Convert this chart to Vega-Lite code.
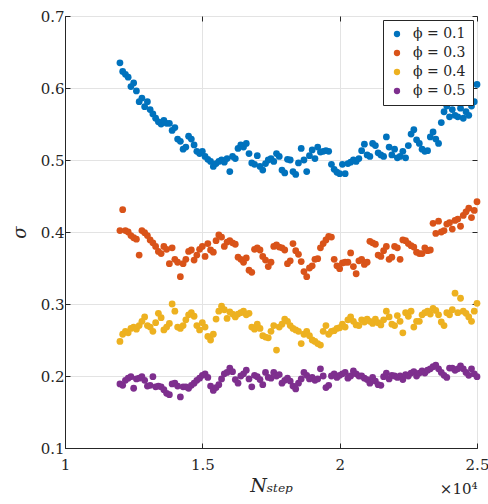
{
"$schema": "https://vega.github.io/schema/vega-lite/v6.json",
"width": 412, "height": 432,
"autosize": {"type": "none"},
"padding": {"left": 65, "top": 16, "right": 11, "bottom": 56},
"background": "white",
"config": {
 "view": {"stroke": "#262626", "strokeWidth": 1},
 "axis": {"labelFont": "DejaVu Serif", "labelFontSize": 15, "labelColor": "#262626", "titleFont": "DejaVu Serif", "titleColor": "#262626", "titleFontWeight": "normal", "domainColor": "#262626", "tickColor": "#262626", "gridColor": "#e3e3e3", "gridWidth": 1}
},
"data": {"values": [
{"n":12000,"phi":"0.1","s":0.635},{"n":12100,"phi":"0.1","s":0.623},{"n":12200,"phi":"0.1","s":0.619},{"n":12300,"phi":"0.1","s":0.615},{"n":12400,"phi":"0.1","s":0.602},{"n":12500,"phi":"0.1","s":0.607},{"n":12600,"phi":"0.1","s":0.596},{"n":12700,"phi":"0.1","s":0.581},{"n":12800,"phi":"0.1","s":0.586},{"n":12900,"phi":"0.1","s":0.574},
{"n":13000,"phi":"0.1","s":0.581},{"n":13100,"phi":"0.1","s":0.570},{"n":13200,"phi":"0.1","s":0.564},{"n":13300,"phi":"0.1","s":0.558},{"n":13400,"phi":"0.1","s":0.553},{"n":13500,"phi":"0.1","s":0.550},{"n":13600,"phi":"0.1","s":0.555},{"n":13700,"phi":"0.1","s":0.551},{"n":13800,"phi":"0.1","s":0.551},{"n":13900,"phi":"0.1","s":0.541},
{"n":14000,"phi":"0.1","s":0.545},{"n":14100,"phi":"0.1","s":0.529},{"n":14200,"phi":"0.1","s":0.526},{"n":14300,"phi":"0.1","s":0.515},{"n":14400,"phi":"0.1","s":0.518},{"n":14500,"phi":"0.1","s":0.533},{"n":14600,"phi":"0.1","s":0.529},{"n":14700,"phi":"0.1","s":0.521},{"n":14800,"phi":"0.1","s":0.512},{"n":14900,"phi":"0.1","s":0.509},
{"n":15000,"phi":"0.1","s":0.512},{"n":15100,"phi":"0.1","s":0.505},{"n":15200,"phi":"0.1","s":0.501},{"n":15300,"phi":"0.1","s":0.498},{"n":15400,"phi":"0.1","s":0.491},{"n":15500,"phi":"0.1","s":0.495},{"n":15600,"phi":"0.1","s":0.498},{"n":15700,"phi":"0.1","s":0.500},{"n":15800,"phi":"0.1","s":0.497},{"n":15900,"phi":"0.1","s":0.502},
{"n":16000,"phi":"0.1","s":0.484},{"n":16100,"phi":"0.1","s":0.505},{"n":16200,"phi":"0.1","s":0.502},{"n":16300,"phi":"0.1","s":0.516},{"n":16400,"phi":"0.1","s":0.521},{"n":16500,"phi":"0.1","s":0.518},{"n":16600,"phi":"0.1","s":0.523},{"n":16700,"phi":"0.1","s":0.509},{"n":16800,"phi":"0.1","s":0.496},{"n":16900,"phi":"0.1","s":0.494},
{"n":17000,"phi":"0.1","s":0.506},{"n":17100,"phi":"0.1","s":0.491},{"n":17200,"phi":"0.1","s":0.486},{"n":17300,"phi":"0.1","s":0.495},{"n":17400,"phi":"0.1","s":0.500},{"n":17500,"phi":"0.1","s":0.502},{"n":17600,"phi":"0.1","s":0.498},{"n":17700,"phi":"0.1","s":0.509},{"n":17800,"phi":"0.1","s":0.505},{"n":17900,"phi":"0.1","s":0.486},
{"n":18000,"phi":"0.1","s":0.482},{"n":18100,"phi":"0.1","s":0.501},{"n":18200,"phi":"0.1","s":0.500},{"n":18300,"phi":"0.1","s":0.484},{"n":18400,"phi":"0.1","s":0.480},{"n":18500,"phi":"0.1","s":0.496},{"n":18600,"phi":"0.1","s":0.516},{"n":18700,"phi":"0.1","s":0.500},{"n":18800,"phi":"0.1","s":0.484},{"n":18900,"phi":"0.1","s":0.506},
{"n":19000,"phi":"0.1","s":0.514},{"n":19100,"phi":"0.1","s":0.502},{"n":19200,"phi":"0.1","s":0.518},{"n":19300,"phi":"0.1","s":0.511},{"n":19400,"phi":"0.1","s":0.512},{"n":19500,"phi":"0.1","s":0.513},{"n":19600,"phi":"0.1","s":0.512},{"n":19700,"phi":"0.1","s":0.494},{"n":19800,"phi":"0.1","s":0.487},{"n":19900,"phi":"0.1","s":0.483},
{"n":20000,"phi":"0.1","s":0.481},{"n":20100,"phi":"0.1","s":0.494},{"n":20200,"phi":"0.1","s":0.481},{"n":20300,"phi":"0.1","s":0.495},{"n":20400,"phi":"0.1","s":0.497},{"n":20500,"phi":"0.1","s":0.500},{"n":20600,"phi":"0.1","s":0.498},{"n":20700,"phi":"0.1","s":0.502},{"n":20800,"phi":"0.1","s":0.513},{"n":20900,"phi":"0.1","s":0.522},
{"n":21000,"phi":"0.1","s":0.507},{"n":21100,"phi":"0.1","s":0.505},{"n":21200,"phi":"0.1","s":0.523},{"n":21300,"phi":"0.1","s":0.520},{"n":21400,"phi":"0.1","s":0.510},{"n":21500,"phi":"0.1","s":0.507},{"n":21600,"phi":"0.1","s":0.505},{"n":21700,"phi":"0.1","s":0.532},{"n":21800,"phi":"0.1","s":0.518},{"n":21900,"phi":"0.1","s":0.507},
{"n":22000,"phi":"0.1","s":0.515},{"n":22100,"phi":"0.1","s":0.503},{"n":22200,"phi":"0.1","s":0.505},{"n":22300,"phi":"0.1","s":0.512},{"n":22400,"phi":"0.1","s":0.503},{"n":22500,"phi":"0.1","s":0.520},{"n":22600,"phi":"0.1","s":0.536},{"n":22700,"phi":"0.1","s":0.542},{"n":22800,"phi":"0.1","s":0.528},{"n":22900,"phi":"0.1","s":0.523},
{"n":23000,"phi":"0.1","s":0.515},{"n":23100,"phi":"0.1","s":0.512},{"n":23200,"phi":"0.1","s":0.513},{"n":23300,"phi":"0.1","s":0.532},{"n":23400,"phi":"0.1","s":0.539},{"n":23500,"phi":"0.1","s":0.529},{"n":23600,"phi":"0.1","s":0.523},{"n":23700,"phi":"0.1","s":0.552},{"n":23800,"phi":"0.1","s":0.567},{"n":23900,"phi":"0.1","s":0.575},
{"n":24000,"phi":"0.1","s":0.560},{"n":24100,"phi":"0.1","s":0.570},{"n":24200,"phi":"0.1","s":0.562},{"n":24300,"phi":"0.1","s":0.560},{"n":24400,"phi":"0.1","s":0.572},{"n":24500,"phi":"0.1","s":0.558},{"n":24600,"phi":"0.1","s":0.567},{"n":24700,"phi":"0.1","s":0.562},{"n":24800,"phi":"0.1","s":0.575},{"n":24900,"phi":"0.1","s":0.581},
{"n":25000,"phi":"0.1","s":0.605},
{"n":12000,"phi":"0.3","s":0.402},{"n":12100,"phi":"0.3","s":0.431},{"n":12200,"phi":"0.3","s":0.402},{"n":12300,"phi":"0.3","s":0.400},{"n":12400,"phi":"0.3","s":0.395},{"n":12500,"phi":"0.3","s":0.392},{"n":12600,"phi":"0.3","s":0.390},{"n":12700,"phi":"0.3","s":0.368},{"n":12800,"phi":"0.3","s":0.402},{"n":12900,"phi":"0.3","s":0.399},
{"n":13000,"phi":"0.3","s":0.395},{"n":13100,"phi":"0.3","s":0.389},{"n":13200,"phi":"0.3","s":0.385},{"n":13300,"phi":"0.3","s":0.380},{"n":13400,"phi":"0.3","s":0.373},{"n":13500,"phi":"0.3","s":0.370},{"n":13600,"phi":"0.3","s":0.380},{"n":13700,"phi":"0.3","s":0.376},{"n":13800,"phi":"0.3","s":0.356},{"n":13900,"phi":"0.3","s":0.378},
{"n":14000,"phi":"0.3","s":0.362},{"n":14100,"phi":"0.3","s":0.358},{"n":14200,"phi":"0.3","s":0.338},{"n":14300,"phi":"0.3","s":0.356},{"n":14400,"phi":"0.3","s":0.362},{"n":14500,"phi":"0.3","s":0.373},{"n":14600,"phi":"0.3","s":0.375},{"n":14700,"phi":"0.3","s":0.361},{"n":14800,"phi":"0.3","s":0.368},{"n":14900,"phi":"0.3","s":0.376},
{"n":15000,"phi":"0.3","s":0.380},{"n":15100,"phi":"0.3","s":0.366},{"n":15200,"phi":"0.3","s":0.384},{"n":15300,"phi":"0.3","s":0.375},{"n":15400,"phi":"0.3","s":0.372},{"n":15500,"phi":"0.3","s":0.388},{"n":15600,"phi":"0.3","s":0.396},{"n":15700,"phi":"0.3","s":0.393},{"n":15800,"phi":"0.3","s":0.380},{"n":15900,"phi":"0.3","s":0.386},
{"n":16000,"phi":"0.3","s":0.388},{"n":16100,"phi":"0.3","s":0.385},{"n":16200,"phi":"0.3","s":0.383},{"n":16300,"phi":"0.3","s":0.365},{"n":16400,"phi":"0.3","s":0.362},{"n":16500,"phi":"0.3","s":0.358},{"n":16600,"phi":"0.3","s":0.364},{"n":16700,"phi":"0.3","s":0.347},{"n":16800,"phi":"0.3","s":0.344},{"n":16900,"phi":"0.3","s":0.376},
{"n":17000,"phi":"0.3","s":0.378},{"n":17100,"phi":"0.3","s":0.375},{"n":17200,"phi":"0.3","s":0.366},{"n":17300,"phi":"0.3","s":0.361},{"n":17400,"phi":"0.3","s":0.352},{"n":17500,"phi":"0.3","s":0.358},{"n":17600,"phi":"0.3","s":0.380},{"n":17700,"phi":"0.3","s":0.382},{"n":17800,"phi":"0.3","s":0.379},{"n":17900,"phi":"0.3","s":0.378},
{"n":18000,"phi":"0.3","s":0.375},{"n":18100,"phi":"0.3","s":0.356},{"n":18200,"phi":"0.3","s":0.360},{"n":18300,"phi":"0.3","s":0.384},{"n":18400,"phi":"0.3","s":0.374},{"n":18500,"phi":"0.3","s":0.369},{"n":18600,"phi":"0.3","s":0.359},{"n":18700,"phi":"0.3","s":0.345},{"n":18800,"phi":"0.3","s":0.338},{"n":18900,"phi":"0.3","s":0.350},
{"n":19000,"phi":"0.3","s":0.353},{"n":19100,"phi":"0.3","s":0.362},{"n":19200,"phi":"0.3","s":0.363},{"n":19300,"phi":"0.3","s":0.378},{"n":19400,"phi":"0.3","s":0.384},{"n":19500,"phi":"0.3","s":0.389},{"n":19600,"phi":"0.3","s":0.394},{"n":19700,"phi":"0.3","s":0.393},{"n":19800,"phi":"0.3","s":0.362},{"n":19900,"phi":"0.3","s":0.353},
{"n":20000,"phi":"0.3","s":0.349},{"n":20100,"phi":"0.3","s":0.357},{"n":20200,"phi":"0.3","s":0.358},{"n":20300,"phi":"0.3","s":0.358},{"n":20400,"phi":"0.3","s":0.371},{"n":20500,"phi":"0.3","s":0.352},{"n":20600,"phi":"0.3","s":0.342},{"n":20700,"phi":"0.3","s":0.360},{"n":20800,"phi":"0.3","s":0.362},{"n":20900,"phi":"0.3","s":0.355},
{"n":21000,"phi":"0.3","s":0.358},{"n":21100,"phi":"0.3","s":0.387},{"n":21200,"phi":"0.3","s":0.385},{"n":21300,"phi":"0.3","s":0.383},{"n":21400,"phi":"0.3","s":0.368},{"n":21500,"phi":"0.3","s":0.366},{"n":21600,"phi":"0.3","s":0.374},{"n":21700,"phi":"0.3","s":0.380},{"n":21800,"phi":"0.3","s":0.362},{"n":21900,"phi":"0.3","s":0.365},
{"n":22000,"phi":"0.3","s":0.380},{"n":22100,"phi":"0.3","s":0.378},{"n":22200,"phi":"0.3","s":0.362},{"n":22300,"phi":"0.3","s":0.389},{"n":22400,"phi":"0.3","s":0.388},{"n":22500,"phi":"0.3","s":0.384},{"n":22600,"phi":"0.3","s":0.381},{"n":22700,"phi":"0.3","s":0.379},{"n":22800,"phi":"0.3","s":0.372},{"n":22900,"phi":"0.3","s":0.370},
{"n":23000,"phi":"0.3","s":0.370},{"n":23100,"phi":"0.3","s":0.378},{"n":23200,"phi":"0.3","s":0.374},{"n":23300,"phi":"0.3","s":0.375},{"n":23400,"phi":"0.3","s":0.412},{"n":23500,"phi":"0.3","s":0.398},{"n":23600,"phi":"0.3","s":0.415},{"n":23700,"phi":"0.3","s":0.400},{"n":23800,"phi":"0.3","s":0.402},{"n":23900,"phi":"0.3","s":0.411},
{"n":24000,"phi":"0.3","s":0.413},{"n":24100,"phi":"0.3","s":0.404},{"n":24200,"phi":"0.3","s":0.416},{"n":24300,"phi":"0.3","s":0.418},{"n":24400,"phi":"0.3","s":0.408},{"n":24500,"phi":"0.3","s":0.423},{"n":24600,"phi":"0.3","s":0.428},{"n":24700,"phi":"0.3","s":0.433},{"n":24800,"phi":"0.3","s":0.420},{"n":24900,"phi":"0.3","s":0.430},
{"n":25000,"phi":"0.3","s":0.442},
{"n":12000,"phi":"0.4","s":0.248},{"n":12100,"phi":"0.4","s":0.258},{"n":12200,"phi":"0.4","s":0.262},{"n":12300,"phi":"0.4","s":0.260},{"n":12400,"phi":"0.4","s":0.266},{"n":12500,"phi":"0.4","s":0.268},{"n":12600,"phi":"0.4","s":0.265},{"n":12700,"phi":"0.4","s":0.270},{"n":12800,"phi":"0.4","s":0.276},{"n":12900,"phi":"0.4","s":0.282},
{"n":13000,"phi":"0.4","s":0.270},{"n":13100,"phi":"0.4","s":0.268},{"n":13200,"phi":"0.4","s":0.262},{"n":13300,"phi":"0.4","s":0.274},{"n":13400,"phi":"0.4","s":0.287},{"n":13500,"phi":"0.4","s":0.281},{"n":13600,"phi":"0.4","s":0.264},{"n":13700,"phi":"0.4","s":0.268},{"n":13800,"phi":"0.4","s":0.273},{"n":13900,"phi":"0.4","s":0.300},
{"n":14000,"phi":"0.4","s":0.290},{"n":14100,"phi":"0.4","s":0.268},{"n":14200,"phi":"0.4","s":0.266},{"n":14300,"phi":"0.4","s":0.270},{"n":14400,"phi":"0.4","s":0.278},{"n":14500,"phi":"0.4","s":0.285},{"n":14600,"phi":"0.4","s":0.288},{"n":14700,"phi":"0.4","s":0.283},{"n":14800,"phi":"0.4","s":0.270},{"n":14900,"phi":"0.4","s":0.264},
{"n":15000,"phi":"0.4","s":0.274},{"n":15100,"phi":"0.4","s":0.268},{"n":15200,"phi":"0.4","s":0.255},{"n":15300,"phi":"0.4","s":0.250},{"n":15400,"phi":"0.4","s":0.258},{"n":15500,"phi":"0.4","s":0.279},{"n":15600,"phi":"0.4","s":0.290},{"n":15700,"phi":"0.4","s":0.297},{"n":15800,"phi":"0.4","s":0.292},{"n":15900,"phi":"0.4","s":0.280},
{"n":16000,"phi":"0.4","s":0.289},{"n":16100,"phi":"0.4","s":0.286},{"n":16200,"phi":"0.4","s":0.282},{"n":16300,"phi":"0.4","s":0.286},{"n":16400,"phi":"0.4","s":0.288},{"n":16500,"phi":"0.4","s":0.290},{"n":16600,"phi":"0.4","s":0.285},{"n":16700,"phi":"0.4","s":0.287},{"n":16800,"phi":"0.4","s":0.268},{"n":16900,"phi":"0.4","s":0.265},
{"n":17000,"phi":"0.4","s":0.272},{"n":17100,"phi":"0.4","s":0.266},{"n":17200,"phi":"0.4","s":0.256},{"n":17300,"phi":"0.4","s":0.254},{"n":17400,"phi":"0.4","s":0.253},{"n":17500,"phi":"0.4","s":0.262},{"n":17600,"phi":"0.4","s":0.270},{"n":17700,"phi":"0.4","s":0.236},{"n":17800,"phi":"0.4","s":0.268},{"n":17900,"phi":"0.4","s":0.272},
{"n":18000,"phi":"0.4","s":0.279},{"n":18100,"phi":"0.4","s":0.276},{"n":18200,"phi":"0.4","s":0.270},{"n":18300,"phi":"0.4","s":0.266},{"n":18400,"phi":"0.4","s":0.264},{"n":18500,"phi":"0.4","s":0.262},{"n":18600,"phi":"0.4","s":0.245},{"n":18700,"phi":"0.4","s":0.258},{"n":18800,"phi":"0.4","s":0.262},{"n":18900,"phi":"0.4","s":0.256},
{"n":19000,"phi":"0.4","s":0.250},{"n":19100,"phi":"0.4","s":0.248},{"n":19200,"phi":"0.4","s":0.245},{"n":19300,"phi":"0.4","s":0.243},{"n":19400,"phi":"0.4","s":0.262},{"n":19500,"phi":"0.4","s":0.270},{"n":19600,"phi":"0.4","s":0.258},{"n":19700,"phi":"0.4","s":0.262},{"n":19800,"phi":"0.4","s":0.263},{"n":19900,"phi":"0.4","s":0.266},
{"n":20000,"phi":"0.4","s":0.267},{"n":20100,"phi":"0.4","s":0.272},{"n":20200,"phi":"0.4","s":0.268},{"n":20300,"phi":"0.4","s":0.278},{"n":20400,"phi":"0.4","s":0.282},{"n":20500,"phi":"0.4","s":0.276},{"n":20600,"phi":"0.4","s":0.271},{"n":20700,"phi":"0.4","s":0.270},{"n":20800,"phi":"0.4","s":0.278},{"n":20900,"phi":"0.4","s":0.275},
{"n":21000,"phi":"0.4","s":0.279},{"n":21100,"phi":"0.4","s":0.276},{"n":21200,"phi":"0.4","s":0.273},{"n":21300,"phi":"0.4","s":0.279},{"n":21400,"phi":"0.4","s":0.274},{"n":21500,"phi":"0.4","s":0.271},{"n":21600,"phi":"0.4","s":0.278},{"n":21700,"phi":"0.4","s":0.290},{"n":21800,"phi":"0.4","s":0.282},{"n":21900,"phi":"0.4","s":0.272},
{"n":22000,"phi":"0.4","s":0.270},{"n":22100,"phi":"0.4","s":0.284},{"n":22200,"phi":"0.4","s":0.276},{"n":22300,"phi":"0.4","s":0.260},{"n":22400,"phi":"0.4","s":0.288},{"n":22500,"phi":"0.4","s":0.283},{"n":22600,"phi":"0.4","s":0.290},{"n":22700,"phi":"0.4","s":0.268},{"n":22800,"phi":"0.4","s":0.276},{"n":22900,"phi":"0.4","s":0.276},
{"n":23000,"phi":"0.4","s":0.285},{"n":23100,"phi":"0.4","s":0.288},{"n":23200,"phi":"0.4","s":0.290},{"n":23300,"phi":"0.4","s":0.286},{"n":23400,"phi":"0.4","s":0.294},{"n":23500,"phi":"0.4","s":0.291},{"n":23600,"phi":"0.4","s":0.285},{"n":23700,"phi":"0.4","s":0.275},{"n":23800,"phi":"0.4","s":0.270},{"n":23900,"phi":"0.4","s":0.288},
{"n":24000,"phi":"0.4","s":0.285},{"n":24100,"phi":"0.4","s":0.292},{"n":24200,"phi":"0.4","s":0.315},{"n":24300,"phi":"0.4","s":0.288},{"n":24400,"phi":"0.4","s":0.308},{"n":24500,"phi":"0.4","s":0.290},{"n":24600,"phi":"0.4","s":0.287},{"n":24700,"phi":"0.4","s":0.282},{"n":24800,"phi":"0.4","s":0.276},{"n":24900,"phi":"0.4","s":0.290},
{"n":25000,"phi":"0.4","s":0.301},
{"n":12000,"phi":"0.5","s":0.189},{"n":12100,"phi":"0.5","s":0.187},{"n":12200,"phi":"0.5","s":0.194},{"n":12300,"phi":"0.5","s":0.197},{"n":12400,"phi":"0.5","s":0.199},{"n":12500,"phi":"0.5","s":0.183},{"n":12600,"phi":"0.5","s":0.196},{"n":12700,"phi":"0.5","s":0.197},{"n":12800,"phi":"0.5","s":0.199},{"n":12900,"phi":"0.5","s":0.194},
{"n":13000,"phi":"0.5","s":0.186},{"n":13100,"phi":"0.5","s":0.187},{"n":13200,"phi":"0.5","s":0.199},{"n":13300,"phi":"0.5","s":0.185},{"n":13400,"phi":"0.5","s":0.186},{"n":13500,"phi":"0.5","s":0.185},{"n":13600,"phi":"0.5","s":0.181},{"n":13700,"phi":"0.5","s":0.176},{"n":13800,"phi":"0.5","s":0.174},{"n":13900,"phi":"0.5","s":0.189},
{"n":14000,"phi":"0.5","s":0.190},{"n":14100,"phi":"0.5","s":0.186},{"n":14200,"phi":"0.5","s":0.171},{"n":14300,"phi":"0.5","s":0.185},{"n":14400,"phi":"0.5","s":0.185},{"n":14500,"phi":"0.5","s":0.183},{"n":14600,"phi":"0.5","s":0.187},{"n":14700,"phi":"0.5","s":0.190},{"n":14800,"phi":"0.5","s":0.194},{"n":14900,"phi":"0.5","s":0.197},
{"n":15000,"phi":"0.5","s":0.201},{"n":15100,"phi":"0.5","s":0.203},{"n":15200,"phi":"0.5","s":0.198},{"n":15300,"phi":"0.5","s":0.186},{"n":15400,"phi":"0.5","s":0.180},{"n":15500,"phi":"0.5","s":0.184},{"n":15600,"phi":"0.5","s":0.188},{"n":15700,"phi":"0.5","s":0.196},{"n":15800,"phi":"0.5","s":0.203},{"n":15900,"phi":"0.5","s":0.205},
{"n":16000,"phi":"0.5","s":0.211},{"n":16100,"phi":"0.5","s":0.206},{"n":16200,"phi":"0.5","s":0.195},{"n":16300,"phi":"0.5","s":0.190},{"n":16400,"phi":"0.5","s":0.200},{"n":16500,"phi":"0.5","s":0.203},{"n":16600,"phi":"0.5","s":0.208},{"n":16700,"phi":"0.5","s":0.196},{"n":16800,"phi":"0.5","s":0.185},{"n":16900,"phi":"0.5","s":0.201},
{"n":17000,"phi":"0.5","s":0.199},{"n":17100,"phi":"0.5","s":0.195},{"n":17200,"phi":"0.5","s":0.188},{"n":17300,"phi":"0.5","s":0.205},{"n":17400,"phi":"0.5","s":0.198},{"n":17500,"phi":"0.5","s":0.197},{"n":17600,"phi":"0.5","s":0.205},{"n":17700,"phi":"0.5","s":0.200},{"n":17800,"phi":"0.5","s":0.202},{"n":17900,"phi":"0.5","s":0.190},
{"n":18000,"phi":"0.5","s":0.194},{"n":18100,"phi":"0.5","s":0.197},{"n":18200,"phi":"0.5","s":0.193},{"n":18300,"phi":"0.5","s":0.186},{"n":18400,"phi":"0.5","s":0.182},{"n":18500,"phi":"0.5","s":0.190},{"n":18600,"phi":"0.5","s":0.196},{"n":18700,"phi":"0.5","s":0.205},{"n":18800,"phi":"0.5","s":0.201},{"n":18900,"phi":"0.5","s":0.196},
{"n":19000,"phi":"0.5","s":0.198},{"n":19100,"phi":"0.5","s":0.194},{"n":19200,"phi":"0.5","s":0.196},{"n":19300,"phi":"0.5","s":0.210},{"n":19400,"phi":"0.5","s":0.200},{"n":19500,"phi":"0.5","s":0.184},{"n":19600,"phi":"0.5","s":0.187},{"n":19700,"phi":"0.5","s":0.200},{"n":19800,"phi":"0.5","s":0.203},{"n":19900,"phi":"0.5","s":0.198},
{"n":20000,"phi":"0.5","s":0.201},{"n":20100,"phi":"0.5","s":0.203},{"n":20200,"phi":"0.5","s":0.205},{"n":20300,"phi":"0.5","s":0.197},{"n":20400,"phi":"0.5","s":0.200},{"n":20500,"phi":"0.5","s":0.207},{"n":20600,"phi":"0.5","s":0.203},{"n":20700,"phi":"0.5","s":0.200},{"n":20800,"phi":"0.5","s":0.200},{"n":20900,"phi":"0.5","s":0.197},
{"n":21000,"phi":"0.5","s":0.195},{"n":21100,"phi":"0.5","s":0.190},{"n":21200,"phi":"0.5","s":0.198},{"n":21300,"phi":"0.5","s":0.193},{"n":21400,"phi":"0.5","s":0.188},{"n":21500,"phi":"0.5","s":0.187},{"n":21600,"phi":"0.5","s":0.199},{"n":21700,"phi":"0.5","s":0.204},{"n":21800,"phi":"0.5","s":0.196},{"n":21900,"phi":"0.5","s":0.201},
{"n":22000,"phi":"0.5","s":0.200},{"n":22100,"phi":"0.5","s":0.198},{"n":22200,"phi":"0.5","s":0.200},{"n":22300,"phi":"0.5","s":0.195},{"n":22400,"phi":"0.5","s":0.202},{"n":22500,"phi":"0.5","s":0.200},{"n":22600,"phi":"0.5","s":0.204},{"n":22700,"phi":"0.5","s":0.206},{"n":22800,"phi":"0.5","s":0.200},{"n":22900,"phi":"0.5","s":0.204},
{"n":23000,"phi":"0.5","s":0.207},{"n":23100,"phi":"0.5","s":0.204},{"n":23200,"phi":"0.5","s":0.208},{"n":23300,"phi":"0.5","s":0.210},{"n":23400,"phi":"0.5","s":0.213},{"n":23500,"phi":"0.5","s":0.215},{"n":23600,"phi":"0.5","s":0.210},{"n":23700,"phi":"0.5","s":0.205},{"n":23800,"phi":"0.5","s":0.201},{"n":23900,"phi":"0.5","s":0.198},
{"n":24000,"phi":"0.5","s":0.211},{"n":24100,"phi":"0.5","s":0.211},{"n":24200,"phi":"0.5","s":0.208},{"n":24300,"phi":"0.5","s":0.210},{"n":24400,"phi":"0.5","s":0.214},{"n":24500,"phi":"0.5","s":0.210},{"n":24600,"phi":"0.5","s":0.205},{"n":24700,"phi":"0.5","s":0.201},{"n":24800,"phi":"0.5","s":0.210},{"n":24900,"phi":"0.5","s":0.203},
{"n":25000,"phi":"0.5","s":0.199}
]},
"layer": [
 {
  "mark": {"type": "point", "filled": true, "size": 46, "opacity": 1},
  "encoding": {
   "x": {"field": "n", "type": "quantitative", "scale": {"domain": [10000, 25000], "nice": false, "zero": false},
     "axis": {"values": [10000, 15000, 20000, 25000], "labelExpr": "datum.value / 10000", "tickSize": -5, "labelPadding": 14, "labelFlush": false, "grid": true, "domain": true, "title": "Nₛₜₑₚ", "titleFontStyle": "italic", "titleFontSize": 19, "titlePadding": 4}},
   "y": {"field": "s", "type": "quantitative", "scale": {"domain": [0.1, 0.7], "nice": false, "zero": false},
     "axis": {"values": [0.1, 0.2, 0.3, 0.4, 0.5, 0.6, 0.7], "format": ".1f", "tickSize": -5, "labelPadding": 6, "labelFlush": false, "grid": true, "domain": true, "title": "σ", "titleFontStyle": "italic", "titleFontSize": 18, "titlePadding": 11}},
   "color": {"field": "phi", "type": "nominal",
     "scale": {"domain": ["0.1", "0.3", "0.4", "0.5"], "range": ["#0072BD", "#D95319", "#EDB120", "#7E2F8E"]},
     "legend": {"orient": "top-right", "offset": 4, "title": null, "labelExpr": "'ϕ = ' + datum.label", "fillColor": "white", "strokeColor": "#262626", "padding": 7, "rowPadding": 5, "labelFont": "DejaVu Serif", "labelFontSize": 14, "labelColor": "#262626", "symbolType": "circle", "symbolSize": 40, "symbolStrokeWidth": 0, "labelOffset": 9, "cornerRadius": 0}}
  }
 },
 {
  "transform": [{"filter": "datum.phi == '0.5'"}],
  "mark": {"type": "point", "opacity": 0},
  "encoding": {
   "x": {"field": "n", "type": "quantitative", "axis": {"orient": "bottom", "values": [10000, 15000, 20000, 25000], "labels": false, "ticks": false, "domain": false, "grid": false, "title": "×10⁴", "titleAnchor": "end", "titleFontSize": 15, "titlePadding": 33}},
   "y": {"field": "s", "type": "quantitative", "axis": {"orient": "right", "values": [0.1, 0.2, 0.3, 0.4, 0.5, 0.6, 0.7], "labels": false, "tickSize": -5, "domain": false, "grid": false, "title": null}}
  }
 },
 {
  "transform": [{"filter": "datum.phi == '0.5'"}],
  "mark": {"type": "point", "opacity": 0},
  "encoding": {
   "x": {"field": "n", "type": "quantitative", "axis": {"orient": "top", "values": [10000, 15000, 20000, 25000], "labels": false, "tickSize": -5, "domain": false, "grid": false, "title": null}},
   "y": {"field": "s", "type": "quantitative", "axis": null}
  }
 }
],
"resolve": {"axis": {"x": "independent", "y": "independent"}}
}
